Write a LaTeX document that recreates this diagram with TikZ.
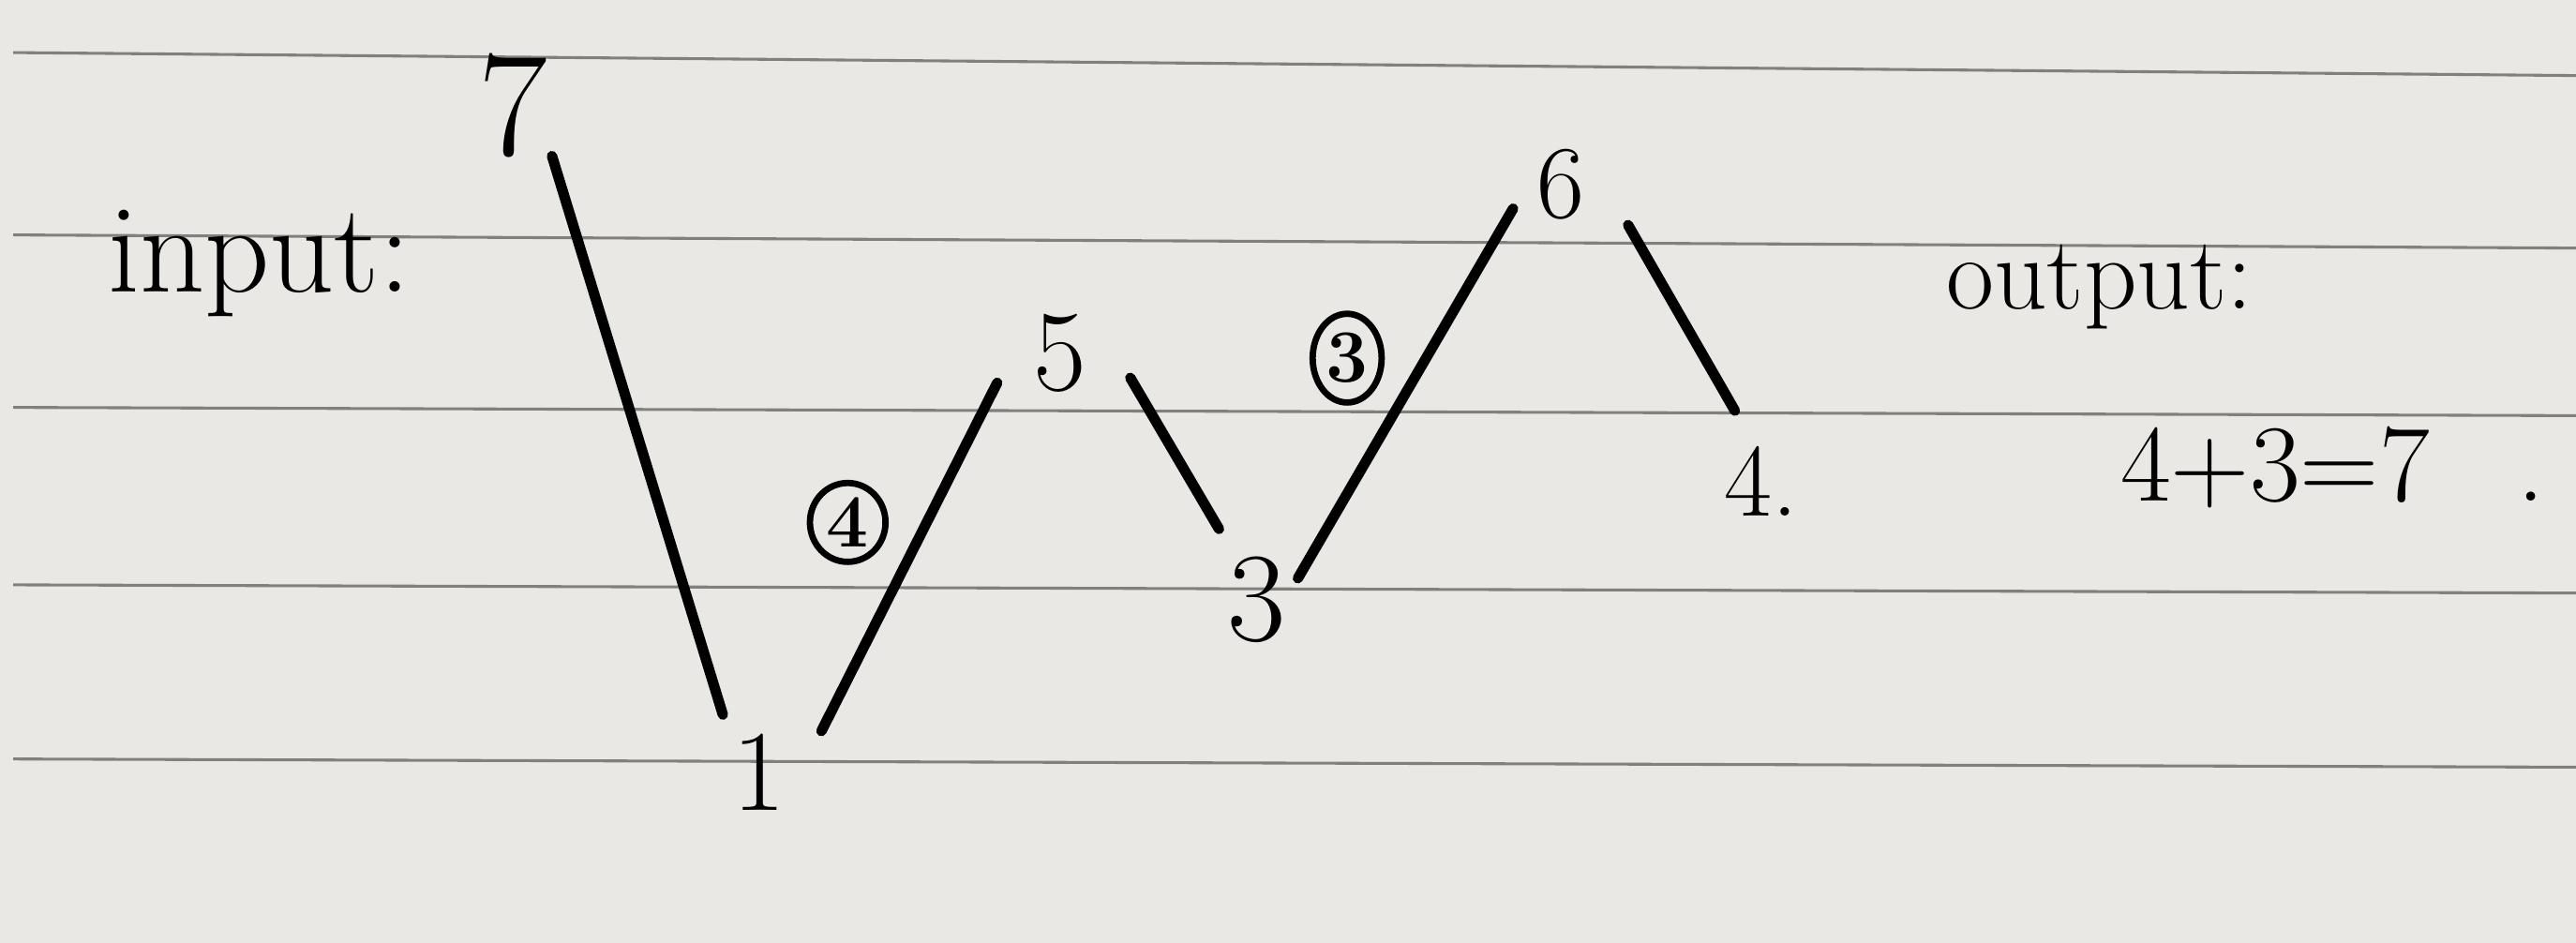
\documentclass[tikz,border=0pt]{standalone}
\usepackage{amsmath}
\usepackage{tikz}
\usetikzlibrary{calc, shapes}

\definecolor{paper}{RGB}{233,232,228}
\definecolor{rule}{RGB}{128,128,126}

\begin{document}
\begin{tikzpicture}

    \tikzstyle{price}=[inner sep=1pt, font=\fontsize{20}{24}\selectfont];
    \tikzstyle{word}=[inner sep=0pt, anchor=base, font=\fontsize{18}{22}\selectfont];
    \tikzstyle{ring}=[ellipse, draw=black, line width=1.1pt, inner sep=0pt, font=\fontsize{13}{15}\selectfont\bfseries];
    \tikzstyle{stroke}=[line width=1.8pt, line cap=round];

    \fill[paper] (0, 0) rectangle (15.68, 5.74);
    \useasboundingbox (0, 0) rectangle (15.68, 5.74);

    % ruled lines of the paper
    \foreach \l/\r in {5.42/5.28, 4.31/4.23, 3.26/3.21, 2.18/2.13, 1.12/1.07}
        \draw[rule, line width=0.5pt] (0.08, \l) -- (15.68, \r);

    \node (in) at (1.58, 3.96) [word, font=\fontsize{22}{26}\selectfont] {input:};
    \node (out) at (12.78, 3.86) [word] {output:};
    \node (sum) at (12.90, 2.69) [word, anchor=base west, font=\fontsize{19}{23}\selectfont] {4+3=7\hspace{0.8em}.};

    \node (1) at (3.12, 5.10) [price, font=\fontsize{26}{30}\selectfont] {7};
    \node (2) at (4.62, 1.04) [price] {1};
    \node (3) at (6.45, 3.59) [price] {5};
    \node (4) at (7.65, 2.09) [price, font=\fontsize{22}{26}\selectfont] {3};
    \node (5) at (9.50, 4.62) [price, font=\fontsize{18}{22}\selectfont] {6};
    \node (6) at (10.72, 2.81) [price, font=\fontsize{18}{22}\selectfont] {4.};

    \node (gain1) at (5.16, 2.56) [ring, minimum width=0.46cm, minimum height=0.48cm] {4};
    \node (gain2) at (8.20, 3.56) [ring, minimum width=0.42cm, minimum height=0.54cm] {3};

    \coordinate (s1) at ($(1)+(0.24,-0.31)$);
    \coordinate (t1) at ($(2)+(-0.22,0.35)$);
    \coordinate (s2) at ($(2)+(0.38,0.25)$);
    \coordinate (t2) at ($(3)+(-0.38,-0.18)$);
    \coordinate (s3) at ($(3)+(0.43,-0.15)$);
    \coordinate (t3) at ($(4)+(-0.23,0.43)$);
    \coordinate (s4) at ($(4)+(0.25,0.13)$);
    \coordinate (t4) at ($(5)+(-0.29,-0.15)$);
    \coordinate (s5) at ($(5)+(0.41,-0.25)$);
    \coordinate (t5) at ($(6)+(-0.16,0.43)$);

    \draw (s1) edge[stroke] (t1);
    \draw (s2) edge[stroke] (t2);
    \draw (s3) edge[stroke] (t3);
    \draw (s4) edge[stroke] (t4);
    \draw (s5) edge[stroke] (t5);

\end{tikzpicture}
\end{document}
